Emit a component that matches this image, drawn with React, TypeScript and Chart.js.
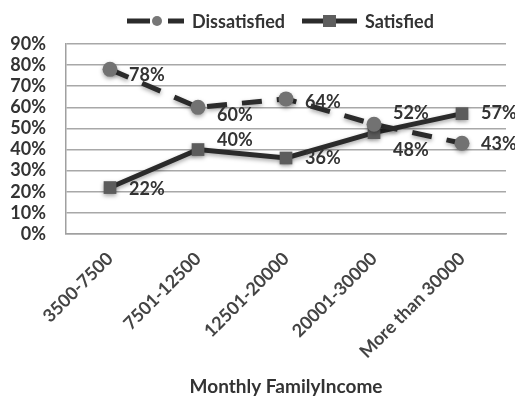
import React, { useEffect, useRef } from "react";
import { Chart, registerables } from "chart.js";

Chart.register(...registerables);

const categories = ["3500-7500", "7501-12500", "12501-20000", "20001-30000", "More than 30000"];
const dissatisfied = [78, 60, 64, 52, 43];
const satisfied = [22, 40, 36, 48, 57];
const yTicks = [0, 10, 20, 30, 40, 50, 60, 70, 80, 90];
const seriesNames = ["Dissatisfied", "Satisfied"];
const axisTitle = "Monthly FamilyIncome";

// vertical nudges for value labels (style only)
const labelDy = [
  [6, 8, 3, -11, 1],
  [2, -9, 0, 18, 0],
];

const FONT = "Lato, 'Open Sans', sans-serif";
const LINE = "#2b2b2b";

const valueLabels = {
  id: "valueLabels",
  afterDatasetsDraw(chart: any) {
    const ctx = chart.ctx;
    ctx.save();
    ctx.font = `bold 18px ${FONT}`;
    ctx.fillStyle = "#333";
    ctx.textAlign = "left";
    ctx.textBaseline = "middle";
    chart.data.datasets.forEach((ds: any, di: number) => {
      const meta = chart.getDatasetMeta(di);
      meta.data.forEach((pt: any, i: number) => {
        ctx.fillText(ds.data[i] + "%", pt.x + 19, pt.y + labelDy[di][i]);
      });
    });
    ctx.restore();
  },
};

const customLegend = {
  id: "customLegend",
  afterDraw(chart: any) {
    const ctx = chart.ctx;
    ctx.save();
    const y = 13;
    ctx.font = `bold 18px ${FONT}`;
    ctx.textBaseline = "middle";
    ctx.textAlign = "left";
    ctx.strokeStyle = LINE;
    ctx.lineWidth = 5;
    ctx.beginPath();
    ctx.moveTo(119, y); ctx.lineTo(142, y);
    ctx.moveTo(160, y); ctx.lineTo(176, y);
    ctx.stroke();
    ctx.fillStyle = "#777";
    ctx.beginPath();
    ctx.arc(149, y, 5, 0, Math.PI * 2);
    ctx.fill();
    ctx.fillStyle = "#333";
    ctx.fillText(seriesNames[0], 184, y + 1);
    ctx.beginPath();
    ctx.moveTo(294, y); ctx.lineTo(349, y);
    ctx.stroke();
    ctx.fillStyle = "#5e5e5e";
    ctx.fillRect(315, y - 6, 13, 12);
    ctx.fillStyle = "#333";
    ctx.fillText(seriesNames[1], 357, y + 1);
    ctx.restore();
  },
};

const markerShadow = {
  id: "markerShadow",
  beforeDatasetsDraw(chart: any) {
    chart.ctx.save();
    chart.ctx.shadowColor = "rgba(0,0,0,0.35)";
    chart.ctx.shadowBlur = 4;
    chart.ctx.shadowOffsetY = 2;
  },
  afterDatasetsDraw(chart: any) {
    chart.ctx.restore();
  },
};

export default function App() {
  const ref = useRef<HTMLCanvasElement>(null);
  useEffect(() => {
    const chart = new Chart(ref.current!, {
      type: "line",
      data: {
        labels: categories,
        datasets: [
          {
            label: seriesNames[0],
            data: dissatisfied,
            borderColor: LINE,
            borderWidth: 5,
            borderDash: [20, 15],
            pointStyle: "circle",
            pointRadius: 7.5,
            pointBackgroundColor: "#727272",
            pointBorderColor: "#727272",
            pointBorderWidth: 0,
            tension: 0,
          },
          {
            label: seriesNames[1],
            data: satisfied,
            borderColor: LINE,
            borderWidth: 5,
            pointStyle: "rect",
            pointRadius: 9,
            pointBackgroundColor: "#5c5c5c",
            pointBorderColor: "#5c5c5c",
            pointBorderWidth: 0,
            tension: 0,
          },
        ],
      },
      options: {
        animation: false,
        responsive: true,
        maintainAspectRatio: false,
        layout: { padding: { top: 36, right: 7, left: 0, bottom: 0 } },
        plugins: {
          legend: { display: false },
          tooltip: { enabled: false },
        },
        scales: {
          x: {
            offset: true,
            grid: { display: false, drawTicks: false },
            border: { display: true, color: "#a0a0a0", width: 1.5 },
            afterFit(scale: any) {
              scale.paddingLeft = 0;
              scale.paddingRight = 0;
              scale.height = 167;
            },
            ticks: {
              minRotation: 45,
              maxRotation: 45,
              autoSkip: false,
              padding: 14,
              color: "#444",
              font: { family: FONT, size: 18, weight: "bold" },
            },
            title: {
              display: true,
              text: axisTitle,
              color: "#333",
              font: { family: FONT, size: 19, weight: "bold" },
              padding: { top: 4, bottom: 3 },
            },
          },
          y: {
            min: 0,
            max: 90,
            afterBuildTicks(axis: any) {
              axis.ticks = yTicks.map((v) => ({ value: v }));
            },
            afterFit(scale: any) {
              scale.width = 58;
            },
            grid: { color: "#a8a8a8", lineWidth: 1.5, drawTicks: false },
            border: { display: true, color: "#a0a0a0", width: 1.5 },
            ticks: {
              autoSkip: false,
              padding: 20,
              color: "#333",
              font: { family: FONT, size: 18, weight: "bold" },
              callback: (v: any) => v + "%",
            },
          },
        },
      },
      plugins: [markerShadow, valueLabels, customLegend],
    });
    return () => chart.destroy();
  }, []);
  return (
    <div style={{ width: 507, height: 393, position: "relative" }}>
      <canvas ref={ref} />
    </div>
  );
}
